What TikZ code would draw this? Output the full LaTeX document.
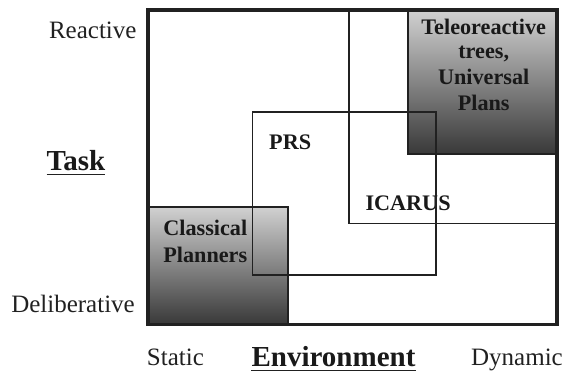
\documentclass[tikz,border=0pt]{standalone}
\usepackage{fontspec}
\setmainfont{Liberation Serif}
\begin{document}
\begin{tikzpicture}[x=1pt,y=-1pt,
  ink/.style={draw=black!87},
  thinbox/.style={ink, line width=1.6pt},
  thickbox/.style={ink, line width=3.2pt},
  gradbox/.style={top color=black!18, bottom color=black!78},
  boldlab/.style={inner sep=0pt, text=black!90, font=\fontsize{22.2}{26}\selectfont\bfseries, align=center},
  axlab/.style={inner sep=0pt, text=black!87, font=\fontsize{25}{29}\selectfont},
  biglab/.style={inner sep=0pt, text=black!90, font=\fontsize{29}{34}\selectfont\bfseries},
  uline/.style={draw=black!87, line width=1.5pt}]
\useasboundingbox (0,0) rectangle (573,373);
% shaded boxes
\shade[gradbox] (408.3,10) rectangle (557,154.3);
\shade[gradbox] (148,206.7) rectangle (287.7,324.7);
\draw[thinbox, line width=2.2pt] (408.3,10) rectangle (557,154.3);
\draw[thinbox, line width=2.2pt] (148,206.7) rectangle (287.7,324.7);
% ICARUS and PRS boxes
\draw[thinbox] (348.7,10) rectangle (557,223.3);
\draw[thinbox] (252.3,112) rectangle (436,275);
% outer box
\draw[thickbox] (148,10) rectangle (557,324.7);
% box labels
\node[boldlab, anchor=base] (tele) at (483.7,34) {Teleoreactive};
\node[boldlab, anchor=base] (trees) at (483.7,58.5) {trees,};
\node[boldlab, anchor=base] (univ) at (483.7,84) {Universal};
\node[boldlab, anchor=base] (plans) at (483.7,110) {Plans};
\node[boldlab, anchor=base west] (prs) at (269,149) {PRS};
\node[boldlab, anchor=base west] (icarus) at (365.3,210) {ICARUS};
\node[boldlab, anchor=base] (classical) at (205.3,235) {Classical};
\node[boldlab, anchor=base] (planners) at (205.3,262) {Planners};
% PRS right line over ICARUS text
\draw[thinbox] (436,112) -- (436,275);
% axis labels
\node[axlab, anchor=base east] (reactive) at (136.7,38) {Reactive};
\node[axlab, anchor=base east] (delib) at (135,312.5) {Deliberative};
\node[axlab, anchor=base west] (static) at (146.7,365) {Static};
\node[axlab, anchor=base east] (dynamic) at (563,365) {Dynamic};
\node[biglab, anchor=base] (task) at (76,170.7) {Task};
\draw[uline] ([yshift=-3.6]task.base west) -- ([yshift=-3.6]task.base east);
\node[biglab, anchor=base] (env) at (333.5,366) {Environment};
\draw[uline] ([yshift=-4.4]env.base west) -- ([yshift=-4.4]env.base east);
\end{tikzpicture}
\end{document}
